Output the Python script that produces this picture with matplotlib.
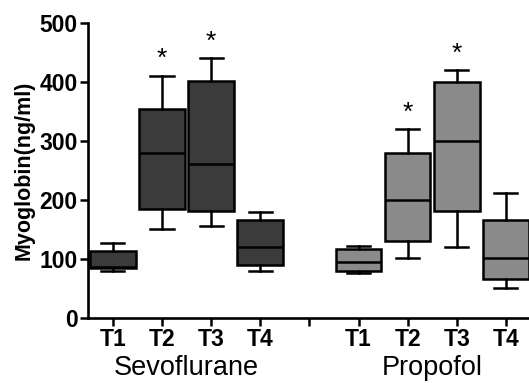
import matplotlib
matplotlib.use("Agg")
import matplotlib.pyplot as plt

plt.rcParams['font.family'] = ['Liberation Sans', 'DejaVu Sans']

# dados (ng/ml)
tempos = ["T1", "T2", "T3", "T4"]
grupos = ["Sevoflurane", "Propofol"]
sevo_min = [80, 150, 156, 80]
sevo_q1 = [84, 184, 181, 90]
sevo_med = [86, 280, 261, 121]
sevo_q3 = [114, 355, 401, 166]
sevo_max = [127, 410, 440, 180]
prop_min = [76, 101, 121, 50]
prop_q1 = [80, 131, 181, 66]
prop_med = [94, 200, 300, 101]
prop_q3 = [116, 280, 400, 166]
prop_max = [122, 320, 420, 211]
sevo_sig = [False, True, True, False]
prop_sig = [False, True, True, False]

cores = ["#3b3b3b", "#8a8a8a"]


def montar_stats(mn, q1, med, q3, mx):
    return [dict(whislo=a, q1=b, med=c, q3=d, whishi=e, fliers=[])
            for a, b, c, d, e in zip(mn, q1, med, q3, mx)]


fig = plt.figure(figsize=(5.29, 3.83), dpi=100)
ax = fig.add_axes([0.166, 0.170, 0.834, 0.770])

series = [
    (montar_stats(sevo_min, sevo_q1, sevo_med, sevo_q3, sevo_max), [1, 2, 3, 4], cores[0], sevo_max, sevo_sig),
    (montar_stats(prop_min, prop_q1, prop_med, prop_q3, prop_max), [6, 7, 8, 9], cores[1], prop_max, prop_sig),
]

lw = 1.8
for stats, pos, cor, topo, sig in series:
    ax.bxp(stats, positions=pos, widths=0.93, patch_artist=True, showfliers=False,
           boxprops=dict(facecolor=cor, edgecolor='black', linewidth=lw),
           medianprops=dict(color='black', linewidth=lw),
           whiskerprops=dict(color='black', linewidth=lw),
           capprops=dict(color='black', linewidth=lw),
           capwidths=0.47)
    for p, t, s in zip(pos, topo, sig):
        if s:
            ax.text(p, t + 8, "*", ha='center', va='bottom', fontsize=19)

ax.set_xlim(0.49, 9.47)
ax.set_ylim(0, 500)
ax.set_yticks([0, 100, 200, 300, 400, 500])
ax.set_xticks([1, 2, 3, 4, 5, 6, 7, 8, 9])
ax.set_xticklabels(tempos + [""] + tempos, fontweight='bold', fontsize=16.5)
for lab in ax.get_yticklabels():
    lab.set_fontweight('bold')
    lab.set_fontsize(16.5)
ax.tick_params(axis='both', width=1.8, length=6, pad=1.5)
ax.set_ylabel("Myoglobin(ng/ml)", fontweight='bold', fontsize=15.5, labelpad=3)

for lado in ['top', 'right']:
    ax.spines[lado].set_visible(False)
for lado in ['left', 'bottom']:
    ax.spines[lado].set_linewidth(1.9)

# rótulos dos grupos
ax.text(2.5, -0.17, grupos[0], transform=ax.get_xaxis_transform(), ha='center', va='center', fontsize=19.5)
ax.text(7.5, -0.17, grupos[1], transform=ax.get_xaxis_transform(), ha='center', va='center', fontsize=19.5)

fig.savefig("out.png", dpi=100)
